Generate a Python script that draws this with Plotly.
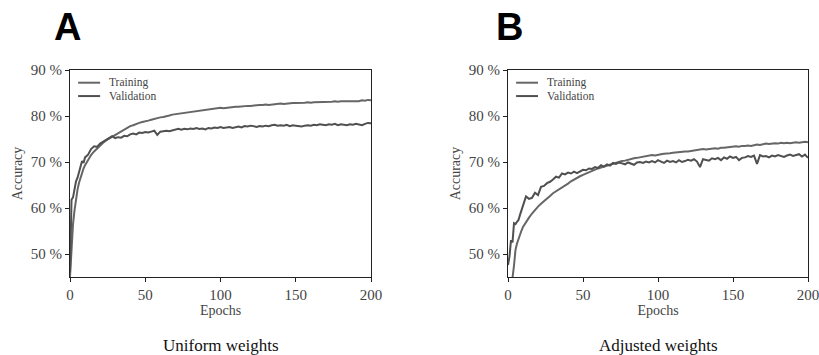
import plotly.graph_objects as go

# ---- data ----
EPOCHS = list(range(0, 11)) + list(range(12, 201, 2))

A_TRAIN = [
    45.0, 52.0, 56.5, 59.5, 62.0, 64.0, 65.5, 66.7, 67.8, 68.6, 69.3,
    70.5, 71.5, 72.3, 73.0, 73.6, 74.2, 74.7, 75.1, 75.5, 75.9,
    76.3, 76.7, 77.0, 77.4, 77.8, 78.0, 78.3, 78.5, 78.7, 78.8,
    79.0, 79.2, 79.4, 79.5, 79.7, 79.8, 79.9, 80.1, 80.3, 80.4,
    80.5, 80.6, 80.7, 80.8, 80.9, 81.0, 81.0, 81.2, 81.3, 81.4,
    81.5, 81.6, 81.6, 81.7, 81.8, 81.7, 81.8, 81.9, 81.9, 82.0,
    82.0, 82.1, 82.1, 82.2, 82.2, 82.3, 82.3, 82.4, 82.4, 82.5,
    82.4, 82.5, 82.6, 82.6, 82.7, 82.6, 82.7, 82.8, 82.8, 82.8,
    82.8, 82.9, 82.9, 83.0, 82.9, 83.0, 83.0, 83.1, 83.0, 83.1,
    83.1, 83.1, 83.2, 83.1, 83.2, 83.2, 83.3, 83.2, 83.3, 83.3,
    83.2, 83.4, 83.3, 83.5, 83.4,
]
A_VALID = [
    46.0, 61.8, 62.3, 64.0, 65.8, 66.6, 67.8, 68.9, 70.2, 69.8, 71.0,
    71.6, 72.8, 73.4, 73.3, 74.0, 74.4, 74.9, 75.3, 75.6, 75.2,
    75.4, 75.3, 75.7, 75.6, 76.0, 76.2, 76.0, 76.4, 76.3, 76.5,
    76.4, 76.6, 76.8, 75.9, 76.6, 76.7, 76.8, 76.7, 76.9, 77.0,
    77.2, 77.0, 77.2, 77.1, 77.3, 77.2, 77.4, 77.2, 77.3, 77.1,
    77.4, 77.3, 77.5, 77.4, 77.6, 77.4, 77.5, 77.6, 77.4, 77.6,
    77.7, 77.5, 77.8, 77.7, 77.9, 77.8, 77.6, 77.8, 77.7, 77.9,
    77.8, 78.0, 78.1, 77.9, 78.0, 77.9, 78.1, 77.8, 78.0, 77.9,
    77.8, 77.7, 77.9, 78.0, 77.9, 78.1, 78.0, 78.2, 78.1, 78.0,
    78.2, 78.1, 78.3, 78.0, 78.2, 78.1, 78.0, 78.2, 78.1, 78.3,
    78.2, 78.0, 78.3, 78.5, 78.4,
]
B_TRAIN = [
    40.0, 41.5, 43.0, 44.8, 47.5, 50.9, 52.3, 53.4, 54.3, 55.1, 55.9,
    57.0, 57.9, 58.8, 59.6, 60.3, 60.9, 61.4, 62.0, 62.6, 63.2,
    63.6, 64.0, 64.4, 64.8, 65.3, 65.8, 66.2, 66.5, 66.9, 67.2,
    67.5, 67.8, 68.1, 68.3, 68.6, 68.8, 69.0, 69.3, 69.5, 69.7,
    69.9, 70.0, 70.2, 70.3, 70.5, 70.6, 70.8, 70.9, 71.0, 71.1,
    71.2, 71.4, 71.5, 71.4, 71.6, 71.7, 71.8, 71.8, 71.9, 72.0,
    72.1, 72.1, 72.2, 72.3, 72.3, 72.4, 72.5, 72.5, 72.6, 72.8,
    72.7, 72.8, 72.9, 73.0, 72.9, 73.1, 73.1, 73.2, 73.3, 73.3,
    73.4, 73.3, 73.5, 73.5, 73.6, 73.5, 73.7, 73.8, 73.7, 73.9,
    74.0, 73.9, 74.0, 74.1, 74.0, 74.2, 74.1, 74.2, 74.1, 74.2,
    74.3, 74.2, 74.3, 74.4, 74.3,
]
B_VALID = [
    47.6, 49.5, 53.0, 52.5, 56.7, 56.5, 57.0, 57.4, 58.5, 59.5, 60.3,
    62.5, 62.0, 62.2, 63.3, 62.8, 64.6, 64.8, 65.4, 65.7, 66.2,
    66.8, 66.6, 67.5, 67.3, 67.7, 67.5, 67.9, 67.6, 68.0, 68.3,
    68.2, 68.6, 68.5, 68.9, 68.7, 69.3, 69.0, 69.5, 69.2, 69.8,
    69.6, 69.9, 69.7, 69.5, 69.9, 69.7, 69.4, 69.9, 70.0, 69.8,
    70.1, 69.9, 70.2, 69.9, 70.4, 70.1, 69.8, 70.3, 70.0, 70.2,
    69.9, 70.4, 70.0, 70.2, 70.5, 70.3, 70.6, 70.1, 68.9, 70.6,
    70.5, 70.3, 70.8, 70.6, 70.9, 70.4, 71.0, 70.7, 71.2, 70.9,
    71.1, 70.4, 70.9, 71.0, 71.3, 71.1, 71.4, 69.6, 71.5, 71.2,
    71.3, 71.0, 71.4, 71.2, 71.5, 71.3, 71.1, 71.4, 71.6, 71.3,
    71.5, 71.7, 71.2, 71.6, 70.9,
]

SERIES_NAMES = ["Training", "Validation"]
SERIES_COLORS = ["#666666", "#505050"]
PANEL_LETTERS = ["A", "B"]
PANEL_TITLES = ["Uniform weights", "Adjusted weights"]
Y_TICKS = [50, 60, 70, 80, 90]
Y_TICK_TEXT = ["50 %", "60 %", "70 %", "80 %", "90 %"]
X_TICKS = [0, 50, 100, 150, 200]

W, H = 819, 355
SERIF = "Liberation Serif, Times New Roman, serif"
SANS = "Liberation Sans, Arial, sans-serif"

fig = go.Figure()

panels = [(A_TRAIN, A_VALID), (B_TRAIN, B_VALID)]
x_domains = [[70 / W, 371 / W], [508 / W, 808 / W]]
y_domain = [(H - 277) / H, (H - 70) / H]

for i, (tr, va) in enumerate(panels):
    xa = "x" if i == 0 else "x2"
    ya = "y" if i == 0 else "y2"
    for name, vals, col in zip(SERIES_NAMES, [tr, va], SERIES_COLORS):
        fig.add_trace(go.Scatter(
            x=EPOCHS, y=vals, mode="lines", name=name,
            line=dict(color=col, width=2),
            xaxis=xa, yaxis=ya, showlegend=False,
        ))

axis_common = dict(
    showline=True, linecolor="#222222", linewidth=1.2, mirror=True,
    ticks="outside", ticklen=4, tickcolor="#222222", tickwidth=1,
    showgrid=False, zeroline=False, automargin=False,
    ticklabeloverflow="allow",
    tickfont=dict(family=SERIF, size=15, color="#444444"),
)

for i in range(2):
    sfx = "" if i == 0 else "2"
    fig.update_layout(**{
        "xaxis" + sfx: dict(
            axis_common, domain=x_domains[i], range=[0, 200],
            tickvals=X_TICKS, anchor="y" + sfx,
            title=dict(text="Epochs", font=dict(family=SERIF, size=14, color="#444444"), standoff=3),
        ),
        "yaxis" + sfx: dict(
            axis_common, domain=y_domain, range=[45, 90],
            tickvals=Y_TICKS, ticktext=Y_TICK_TEXT, anchor="x" + sfx,
            title=dict(text="Accuracy", font=dict(family=SERIF, size=14, color="#444444"), standoff=4),
        ),
    })

    xref = "x" + sfx + " domain"
    yref = "y" + sfx + " domain"
    # legend (drawn manually to match compact spacing)
    for k, (name, col) in enumerate(zip(SERIES_NAMES, SERIES_COLORS)):
        yy = 0.9386 - k * 0.0645
        fig.add_shape(type="line", xref=xref, yref=yref,
                      x0=0.027, x1=0.100, y0=yy, y1=yy,
                      line=dict(color=col, width=2))
        fig.add_annotation(xref=xref, yref=yref, x=0.122, y=yy,
                           text=name, showarrow=False, xanchor="left", yanchor="middle",
                           font=dict(family=SERIF, size=11.5, color="#444444"))
    # panel letter
    fig.add_annotation(xref="paper", yref="paper",
                       x=(52 if i == 0 else 494) / W, y=1 - 4 / H,
                       text="<b>" + PANEL_LETTERS[i] + "</b>", showarrow=False,
                       xanchor="left", yanchor="top",
                       font=dict(family=SANS, size=38, color="#000000"))
    # panel caption
    fig.add_annotation(xref=xref, yref="paper", x=0.5, y=(H - 345) / H,
                       text=PANEL_TITLES[i], showarrow=False,
                       xanchor="center", yanchor="middle",
                       font=dict(family=SERIF, size=17, color="#111111"))

fig.update_layout(
    width=W, height=H,
    margin=dict(l=0, r=0, t=0, b=0),
    paper_bgcolor="white", plot_bgcolor="white",
    showlegend=False,
)

fig.write_html(
    "out.html",
    config={"displayModeBar": False},
    post_script="document.body.style.margin='0';document.body.style.overflow='hidden';",
)
